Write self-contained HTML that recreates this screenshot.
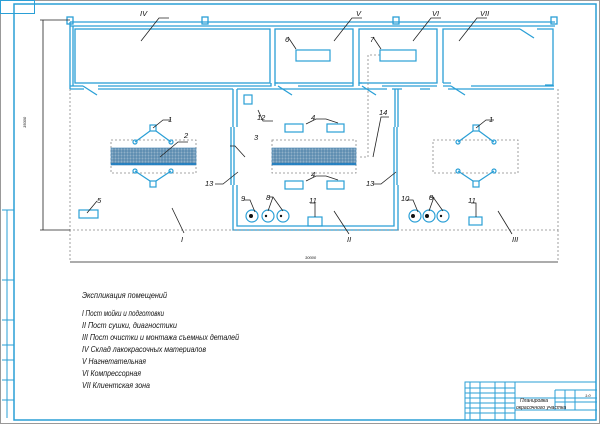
<!DOCTYPE html>
<html><head><meta charset="utf-8"><style>
html,body{margin:0;padding:0;background:#fff}
svg{display:block}
text{font-family:"Liberation Sans","DejaVu Sans",sans-serif;font-style:italic;fill:#111}
</style></head><body>
<svg width="600" height="424" viewBox="0 0 600 424" xmlns="http://www.w3.org/2000/svg">
<g fill="none" stroke="#2a9fd6">
<rect x="0.5" y="0.5" width="599" height="423" stroke="#999"/>
<rect x="14" y="4" width="582" height="416" stroke-width="1.5"/>
<rect x="0.5" y="0.5" width="34" height="13"/>
<path d="M2 210h12M2 280h12M2 320h12M2 345h12M2 360h12M2 380h12M2 400h12M7 210v208"/>
<rect x="465" y="382" width="131" height="38"/>
<path d="M465 398h132M465 388h50M465 393h50M465 403h50M465 408h50M465 413h50M470 382v38M480 382v38M495 382v38M505 382v38M515 382v38M555 390v20M565 390v20M575 390v20M555 402h42M555 390h42M515 410h82"/>
<g stroke-width="1.3">
<path d="M70 22h485M70 26h485"/>
<rect x="67" y="17" width="6" height="7"/><rect x="202" y="17" width="6" height="7"/><rect x="393" y="17" width="6" height="7"/><rect x="551" y="17" width="6" height="7"/>
<path d="M70 22v67M73 26v60"/>
<rect x="75" y="29" width="195" height="54"/>
<rect x="275" y="29" width="78" height="54"/>
<rect x="359" y="29" width="78" height="54"/>
<path d="M443 83V29h77M537 29h16v56h-8M443 83h8"/>
<path d="M70 86h13M98 86h173v-3M275 86v-3h3M298 86h55v-3M359 86v-3h3M382 86h55M443 86h8M471 86h83"/>
<path d="M70 89h14M98 89h135M237 89h150M392 89h10M420 89h10M448 89h106"/>
<path d="M83 86l14 9M278 86l14 9M362 86l14 9M451 86l14 9M520 29l14 9"/>
<path d="M233 89v38M237 89v38M231 127v58M234 127v58M233 185v45h165v-45M237 185v41h157v-41M395 89v38M398 89v38M394 127v58M397 127v58"/>
</g>
<g stroke="#888" stroke-dasharray="2,2" stroke-width="0.8">
<path d="M70 89v141h488V89M70 230v32M558 230v32"/>
<rect x="111" y="140" width="85" height="33"/>
<rect x="272" y="140" width="84" height="33"/>
<rect x="433" y="140" width="85" height="33"/>
<path d="M380 55h-12v102h-8"/>
</g>
<g stroke-width="0.6">
<rect x="111" y="148" width="85" height="17" fill="#8fb0c8" stroke="#3c7fb0"/>
<rect x="272" y="148" width="84" height="17" fill="#8fb0c8" stroke="#3c7fb0"/>
<path d="M111 151h85M111 154h85M111 157h85M111 160h85M111 163h85M272 151h84M272 154h84M272 157h84M272 160h84M272 163h84" stroke="#2f6b99"/>
<path d="M114 148v17M117 148v17M120 148v17M123 148v17M126 148v17M129 148v17M132 148v17M135 148v17M138 148v17M141 148v17M144 148v17M147 148v17M150 148v17M153 148v17M156 148v17M159 148v17M162 148v17M165 148v17M168 148v17M171 148v17M174 148v17M177 148v17M180 148v17M183 148v17M186 148v17M189 148v17M192 148v17M275 148v17M278 148v17M281 148v17M284 148v17M287 148v17M290 148v17M293 148v17M296 148v17M299 148v17M302 148v17M305 148v17M308 148v17M311 148v17M314 148v17M317 148v17M320 148v17M323 148v17M326 148v17M329 148v17M332 148v17M335 148v17M338 148v17M341 148v17M344 148v17M347 148v17M350 148v17M353 148v17" stroke="#2f6b99"/>
<path d="M111 164h85M272 164h84" stroke="#1a7fc6" stroke-width="1.5"/>
</g>
<g stroke-width="1.2">
<rect x="150" y="125" width="6" height="6"/><path d="M150 131l-15 11M156 131l15 11"/><circle cx="135" cy="142" r="2"/><circle cx="171" cy="142" r="2"/>
<rect x="150" y="181" width="6" height="6"/><path d="M150 181l-15-10M156 181l15-10"/><circle cx="135" cy="171" r="2"/><circle cx="171" cy="171" r="2"/>
<rect x="473" y="125" width="6" height="6"/><path d="M473 131l-15 11M479 131l15 11"/><circle cx="458" cy="142" r="2"/><circle cx="494" cy="142" r="2"/>
<rect x="473" y="181" width="6" height="6"/><path d="M473 181l-15-10M479 181l15-10"/><circle cx="458" cy="171" r="2"/><circle cx="494" cy="171" r="2"/>
<rect x="79" y="210" width="19" height="8"/>
<rect x="244" y="95" width="8" height="9"/>
<rect x="285" y="124" width="18" height="8"/><rect x="327" y="124" width="17" height="8"/>
<rect x="285" y="181" width="18" height="8"/><rect x="327" y="181" width="17" height="8"/>
<rect x="308" y="217" width="14" height="9"/><rect x="469" y="217" width="13" height="8"/>
<rect x="296" y="50" width="34" height="11"/><rect x="380" y="50" width="36" height="11"/>
<circle cx="252" cy="216" r="6"/><circle cx="268" cy="216" r="6"/><circle cx="283" cy="216" r="6"/>
<circle cx="415" cy="216" r="6"/><circle cx="429" cy="216" r="6"/><circle cx="443" cy="216" r="6"/>
</g>
</g>
<g fill="#111">
<circle cx="251" cy="216" r="2"/><circle cx="266" cy="216" r="1.2"/><circle cx="281" cy="216" r="1.2"/>
<circle cx="413" cy="216" r="2"/><circle cx="427" cy="216" r="2"/><circle cx="441" cy="216" r="1.2"/>
</g>
<g stroke="#222" stroke-width="0.8" fill="none">
<path d="M43 20v210M40 20h30M40 230h30M70 262h488"/>
<path d="M141 41l18-23h10M334 41l18-23h10M413 41l18-23h10M459 41l18-23h10M288 37l8 12M373 37l8 12M153 128l10-8h8M160 157l18-15h10M245 157l-10-11h-5M258 110l5 11h10M306 124l10-5h10l12 4M306 181l10-5h10l12 4M238 172l-15 12h-8M373 157l8-40h8M396 172l-15 12h-8M476 128l10-8h8M87 213l10-12M255 212l-5-12h-6M268 211l5-14M283 211l-10-14h-4M418 212l-5-12h-6M429 211l5-14M443 211l-10-14h-4M315 217v-14h-5M476 217v-14h-5M172 208l12 25M334 211l15 23M498 211l14 23"/>
</g>
<g fill="#111" font-size="7.5">
<text x="140" y="16">IV</text><text x="356" y="16">V</text><text x="432" y="16">VI</text><text x="480" y="16">VII</text>
<text x="285" y="42">6</text><text x="370" y="42">7</text>
<text x="168" y="122">1</text><text x="184" y="138">2</text><text x="254" y="140">3</text>
<text x="311" y="120">4</text><text x="311" y="177">4</text><text x="257" y="120">12</text>
<text x="205" y="186">13</text><text x="366" y="186">13</text><text x="379" y="115">14</text>
<text x="489" y="122">1</text><text x="97" y="203">5</text>
<text x="241" y="201">9</text><text x="266" y="200">8</text><text x="309" y="203">11</text>
<text x="401" y="201">10</text><text x="429" y="200">8</text><text x="468" y="203">11</text>
<text x="181" y="242">I</text><text x="347" y="242">II</text><text x="512" y="242">III</text>
<text x="26" y="128" font-size="4" transform="rotate(-90 26 128)">15000</text>
<text x="305" y="259" font-size="4">30000</text>
</g>
<g font-size="8.3">
<text x="82" y="298" textLength="85" lengthAdjust="spacingAndGlyphs">Экспликация помещений</text>
<text x="82" y="316" textLength="82" lengthAdjust="spacingAndGlyphs">I Пост мойки и подготовки</text>
<text x="82" y="328" textLength="95" lengthAdjust="spacingAndGlyphs">II Пост сушки, диагностики</text>
<text x="82" y="340" textLength="157" lengthAdjust="spacingAndGlyphs">III Пост очистки и монтажа съемных деталей</text>
<text x="82" y="352" textLength="124" lengthAdjust="spacingAndGlyphs">IV Склад лакокрасочных материалов</text>
<text x="82" y="364" textLength="64" lengthAdjust="spacingAndGlyphs">V Нагнетательная</text>
<text x="82" y="376" textLength="59" lengthAdjust="spacingAndGlyphs">VI Компрессорная</text>
<text x="82" y="388" textLength="68" lengthAdjust="spacingAndGlyphs">VII Клиентская зона</text>
</g>
<g font-size="5">
<text x="520" y="402">Планировка</text>
<text x="516" y="409">окрасочного участка</text>
<text x="585" y="397" font-size="4">1:0</text>
</g>
</svg>
</body></html>
